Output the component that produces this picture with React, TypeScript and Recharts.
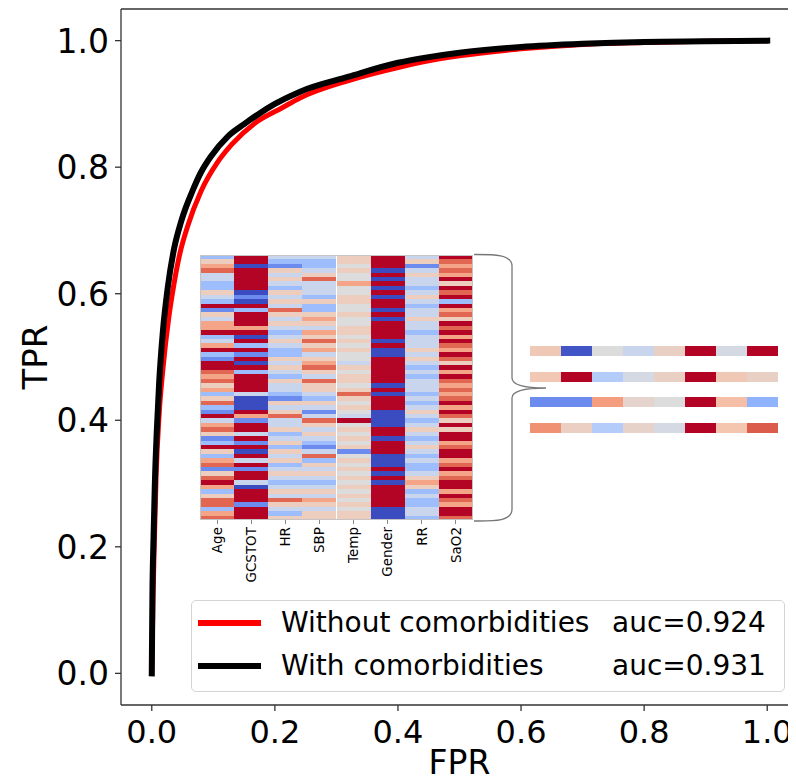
import React from "react";
import { LineChart, Line, XAxis, YAxis, ReferenceLine, Legend, BarChart, Bar, Cell } from "recharts";

// axis ticks
const fprTicks = [0, 0.2, 0.4, 0.6, 0.8, 1.0];
const tprTicks = [0, 0.2, 0.4, 0.6, 0.8, 1.0];

// legend
const seriesNames = ["Without comorbidities", "With comorbidities"];
const seriesColors = ["#ff0000", "#000000"];
const aucValues = ["auc=0.924", "auc=0.931"];

// ROC curves
const withoutFpr = [0, 0.002, 0.004, 0.007, 0.012, 0.018, 0.028, 0.036, 0.046, 0.058, 0.08, 0.107, 0.13, 0.168, 0.212, 0.24, 0.32, 0.402, 0.45, 0.5, 0.6, 0.7, 0.8, 0.9, 1.0];
const withoutTpr = [0, 0.12, 0.2, 0.31, 0.41, 0.48, 0.565, 0.615, 0.665, 0.706, 0.762, 0.808, 0.836, 0.87, 0.894, 0.909, 0.937, 0.958, 0.968, 0.976, 0.987, 0.994, 0.997, 0.999, 1.0];
const withFpr = [0, 0.001, 0.003, 0.005, 0.008, 0.012, 0.018, 0.026, 0.036, 0.048, 0.066, 0.08, 0.096, 0.123, 0.15, 0.175, 0.2, 0.24, 0.32, 0.4, 0.45, 0.5, 0.6, 0.7, 0.8, 0.9, 1.0];
const withTpr = [0, 0.12, 0.22, 0.3, 0.38, 0.46, 0.54, 0.61, 0.67, 0.715, 0.762, 0.792, 0.817, 0.848, 0.868, 0.885, 0.9, 0.919, 0.943, 0.965, 0.974, 0.981, 0.99, 0.995, 0.998, 0.999, 1.0];

// inset heatmap: one array per feature, rows top to bottom, level 0 (deep blue) .. 8 (deep red)
const features = ["Age", "GCSTOT", "HR", "SBP", "Temp", "Gender", "RR", "SaO2"];
const ageLevels = [2,5,6,7,3,3,2,2,5,3,2,8,1,5,3,6,6,8,2,3,6,8,2,1,8,8,7,6,7,5,6,2,5,7,2,1,8,3,6,7,5,1,2,8,5,2,6,7,1,5,7,8,6,2,5,7,7,2,6,7];
const gcsLevels = [8,8,0,8,8,8,8,8,0,1,0,8,2,8,8,8,6,8,0,8,2,8,1,8,0,8,2,8,8,8,8,3,0,0,0,8,6,1,8,8,3,8,1,8,0,8,3,8,1,8,8,3,0,8,8,8,1,8,8,8];
const hrLevels = [3,2,1,5,3,5,3,2,5,3,5,3,7,5,3,5,3,2,3,5,3,2,2,5,3,5,3,2,5,3,3,2,1,5,3,5,7,3,3,5,2,3,5,2,5,3,5,2,3,5,3,2,3,5,3,7,5,3,2,5];
const sbpLevels = [3,2,2,3,5,7,3,3,3,2,5,2,2,5,6,5,3,6,5,7,5,6,3,5,6,7,5,3,7,5,5,3,2,5,3,1,3,7,5,3,5,3,2,1,3,7,2,5,3,5,3,2,3,5,3,6,5,3,5,5];
const tempLevels = [5,5,4,5,4,4,6,4,4,5,5,4,4,5,4,4,5,5,4,5,4,5,4,4,3,5,4,5,5,4,5,7,5,4,5,4,3,8,4,5,4,5,4,5,1,4,5,4,5,4,5,4,5,4,5,4,5,4,5,5];
const genderLevels = [8,8,8,0,8,0,8,0,8,0,8,8,0,8,0,8,8,8,8,0,8,0,0,8,8,8,8,8,8,0,8,0,8,8,8,0,0,0,0,8,8,0,8,8,8,0,0,0,8,0,8,0,8,8,8,8,8,0,0,0];
const rrLevels = [3,5,1,3,5,3,3,2,3,5,3,2,3,3,5,3,3,2,3,3,3,5,3,5,3,2,3,2,3,3,3,2,3,2,3,5,3,2,3,5,3,2,3,5,3,2,3,2,2,3,5,6,5,2,3,2,2,3,3,2];
const sao2Levels = [8,7,6,7,6,8,5,8,7,8,2,8,6,7,5,8,7,8,6,8,7,6,8,7,5,8,6,8,7,6,7,6,7,8,6,8,7,5,8,5,8,8,6,7,8,8,6,7,8,6,7,8,8,6,8,7,6,8,8,7];
const heatLevels = [ageLevels, gcsLevels, hrLevels, sbpLevels, tempLevels, genderLevels, rrLevels, sao2Levels];
const levelT = [0, 0.15, 0.3, 0.43, 0.5, 0.58, 0.72, 0.86, 1];

// four example patients (colormap position 0..1 per feature)
const stripNames = ["p1", "p2", "p3", "p4"];
const strip1 = [0.6, 0.02, 0.5, 0.43, 0.56, 1.0, 0.47, 1.0];
const strip2 = [0.61, 1.0, 0.36, 0.47, 0.56, 1.0, 0.6, 0.56];
const strip3 = [0.15, 0.15, 0.74, 0.54, 0.5, 1.0, 0.64, 0.26];
const strip4 = [0.77, 0.57, 0.36, 0.55, 0.47, 1.0, 0.62, 0.88];
const stripValues = [strip1, strip2, strip3, strip4];

const coolwarm = [
  [59, 76, 192], [98, 130, 234], [141, 176, 254], [184, 208, 249], [221, 220, 220],
  [245, 196, 173], [244, 154, 123], [222, 96, 77], [180, 4, 38],
];
function cw(t: number) {
  const s = Math.max(0, Math.min(1, t)) * 8;
  const i = Math.min(7, Math.floor(s));
  const f = s - i;
  const a = coolwarm[i], b = coolwarm[i + 1];
  const c = a.map((v, k) => Math.round(v + (b[k] - v) * f));
  return `rgb(${c[0]},${c[1]},${c[2]})`;
}

const font = "DejaVu Sans";
const withoutData = withoutFpr.map((x, i) => ({ fpr: x, tpr: withoutTpr[i] }));
const withData = withFpr.map((x, i) => ({ fpr: x, tpr: withTpr[i] }));

const rowKeys = ageLevels.map((_, r) => "r" + r);
const heatData = features.map((name) => {
  const row: any = { name };
  rowKeys.forEach((k) => (row[k] = 1));
  return row;
});
const stripData = stripNames.map((name) => {
  const row: any = { name };
  features.forEach((_, ci) => (row["c" + ci] = 1));
  return row;
});

const XTick = (props: any) => (
  <text x={props.x} y={props.y} dy={30} textAnchor="middle" fontSize={32} fontFamily={font} fill="#000">
    {Number(props.payload.value).toFixed(1)}
  </text>
);
const YTick = (props: any) => (
  <text x={props.x} y={props.y} dy={12} textAnchor="end" fontSize={33} fontFamily={font} fill="#000">
    {Number(props.payload.value).toFixed(1)}
  </text>
);
const HeatTick = (props: any) => (
  <text transform={`translate(${props.x},${props.y}) rotate(-90)`} dy="0.35em" textAnchor="end" fontSize={13.5} fontFamily={font} fill="#000">
    {props.payload.value}
  </text>
);

const LegendBox = () => (
  <div style={{ width: 594, height: 92, boxSizing: "border-box", border: "1px solid #d4d4d4", borderRadius: 5, background: "rgba(255,255,255,0.85)" }}>
    <svg width={592} height={90} style={{ display: "block" }}>
      {seriesNames.map((n, i) => (
        <g key={n}>
          <line x1={6} x2={69} y1={22 + i * 43} y2={22 + i * 43} stroke={seriesColors[i]} strokeWidth={6} />
          <text x={89} y={31 + i * 43} fontSize={28} fontFamily={font} fill="#000">{n}</text>
          <text x={420} y={31 + i * 43} fontSize={28} fontFamily={font} fill="#000">{aucValues[i]}</text>
        </g>
      ))}
    </svg>
  </div>
);

export default function App() {
  return (
    <div style={{ position: "relative", width: 788, height: 776, overflow: "hidden", background: "#fff" }}>
      <LineChart width={792} height={776} margin={{ top: 1, right: 2, bottom: 0, left: 0 }}>
        <XAxis
          type="number"
          dataKey="fpr"
          domain={[-0.05, 1.05]}
          ticks={fprTicks}
          allowDataOverflow
          height={79}
          tickSize={6}
          tickMargin={2}
          tick={<XTick />}
          axisLine={{ stroke: "#333", strokeWidth: 1.3 }}
          tickLine={{ stroke: "#333", strokeWidth: 1.3 }}
          label={{ value: "FPR", position: "insideBottom", offset: 10, fontSize: 33, fill: "#000", fontFamily: font }}
        />
        <YAxis
          type="number"
          domain={[-0.05, 1.05]}
          ticks={tprTicks}
          allowDataOverflow
          width={113}
          tickSize={6}
          tickMargin={6}
          tick={<YTick />}
          axisLine={{ stroke: "#333", strokeWidth: 1.3 }}
          tickLine={{ stroke: "#333", strokeWidth: 1.3 }}
          label={{ value: "TPR", angle: -90, position: "insideLeft", offset: 27, fontSize: 34, fill: "#000", fontFamily: font, style: { textAnchor: "middle" } }}
        />
        <ReferenceLine y={1.05} stroke="#333" strokeWidth={1.3} />
        <Line data={withoutData} dataKey="tpr" type="monotone" name={seriesNames[0]} stroke={seriesColors[0]} strokeWidth={5} strokeLinecap="square" dot={false} isAnimationActive={false} />
        <Line data={withData} dataKey="tpr" type="monotone" name={seriesNames[1]} stroke={seriesColors[1]} strokeWidth={6} strokeLinecap="square" dot={false} isAnimationActive={false} />
        <Legend layout="horizontal" verticalAlign="middle" align="center" content={<LegendBox />} wrapperStyle={{ position: "absolute", left: 183, top: 592, width: 594, height: 92 }} />
      </LineChart>

      {/* inset heatmap */}
      <div style={{ position: "absolute", left: 187, top: 242, width: 290, height: 340, shapeRendering: "crispEdges" } as any}>
        <BarChart width={290} height={340} data={heatData} margin={{ top: 5, right: 12, bottom: 0, left: 5 }} barCategoryGap={0} barGap={0}>
          <XAxis dataKey="name" type="category" interval={0} height={70} tickSize={4} tickMargin={3} tick={<HeatTick />} axisLine={false} tickLine={{ stroke: "#888" }} />
          <YAxis type="number" domain={[0, rowKeys.length]} reversed width={0} ticks={[0.5, 12.3, 24.1, 35.9, 47.7]} tickFormatter={() => ""} tickSize={4} axisLine={false} tickLine={{ stroke: "#888" }} />
          {rowKeys.map((k, ri) => (
            <Bar key={k} dataKey={k} stackId="h" isAnimationActive={false}>
              {features.map((f, ci) => (
                <Cell key={f} fill={cw(levelT[heatLevels[ci][ri]])} />
              ))}
            </Bar>
          ))}
        </BarChart>
        <div style={{ position: "absolute", left: 5, top: 5, width: 273, height: 265, boxSizing: "border-box", border: "1px solid #c4c4c4", pointerEvents: "none" }} />
      </div>

      {/* brace */}
      <svg width={788} height={776} style={{ position: "absolute", left: 0, top: 0, pointerEvents: "none" }}>
        <path
          d="M466,246.5 C484,246.5 504,246 504,258 L504,370 C504,378 522,380 538,380 C522,380 504,382 504,390 L504,501 C504,514 484,513 466,513"
          fill="none"
          stroke="#777"
          strokeWidth={1.3}
        />
      </svg>

      {/* example rows */}
      <div style={{ position: "absolute", left: 522, top: 330, width: 248, height: 102, shapeRendering: "crispEdges" } as any}>
        <BarChart layout="vertical" width={248} height={102} data={stripData} margin={{ top: 0, right: 0, bottom: 0, left: 0 }} barSize={10}>
          <XAxis type="number" domain={[0, features.length]} hide />
          <YAxis type="category" dataKey="name" hide />
          {features.map((f, ci) => (
            <Bar key={f} dataKey={"c" + ci} stackId="s" isAnimationActive={false}>
              {stripNames.map((n, ri) => (
                <Cell key={n} fill={cw(stripValues[ri][ci])} />
              ))}
            </Bar>
          ))}
        </BarChart>
      </div>
    </div>
  );
}
